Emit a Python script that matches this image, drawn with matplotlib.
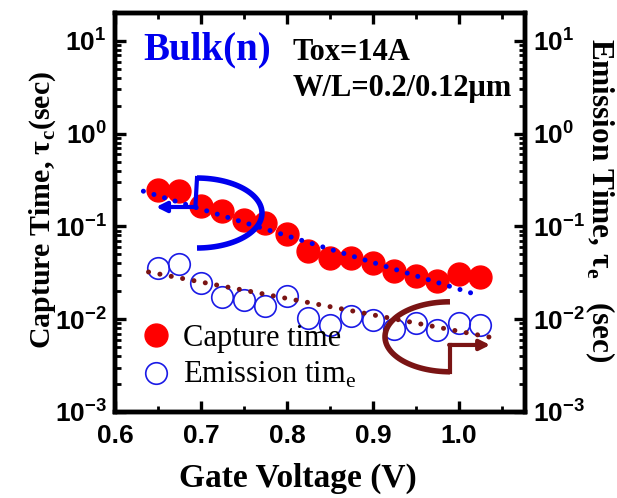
import matplotlib
matplotlib.use('Agg')
import matplotlib.pyplot as plt
import numpy as np
from matplotlib.ticker import LogLocator, MultipleLocator, NullFormatter

plt.rcParams['font.family'] = 'Liberation Sans'
plt.rcParams['font.weight'] = 'bold'

gate_voltage = [0.650, 0.675, 0.700, 0.725, 0.750, 0.775, 0.800, 0.825,
                0.850, 0.875, 0.900, 0.925, 0.950, 0.975, 1.000, 1.025]
capture_time = [0.248, 0.240, 0.168, 0.145, 0.116, 0.108, 0.082, 0.055,
                0.046, 0.0456, 0.0407, 0.033, 0.029, 0.0258, 0.031, 0.0285]
emission_time = [0.036, 0.0397, 0.0245, 0.0174, 0.016, 0.0139, 0.0178, 0.0103,
                 0.0086, 0.0108, 0.0098, 0.0078, 0.009, 0.0076, 0.009, 0.0086]

# fitted trend lines (end points)
capture_fit_v = [0.633, 1.024]
capture_fit_t = [0.24, 0.018]
emission_fit_v = [0.639, 1.044]
emission_fit_t = [0.0323, 0.0062]

serif = 'Liberation Serif'
blue = '#0000ee'
brown = '#7a1414'

fig = plt.figure(figsize=(6.17, 4.98), dpi=100)
ax = fig.add_axes([0.1864, 0.1727, 0.6645, 0.8012])

ax.plot(capture_fit_v, capture_fit_t, color=blue, lw=3.6,
        linestyle=(0, (0.01, 2.2)), dash_capstyle='round', zorder=3)
ax.plot(emission_fit_v, emission_fit_t, color=brown, lw=3.6,
        linestyle=(0, (0.01, 2.3)), dash_capstyle='round', zorder=3)

cap, = ax.plot(gate_voltage, capture_time, 'o', color='#ff0000', ms=16.5,
               mec='#ff0000', zorder=2, label='Capture time')
emi, = ax.plot(gate_voltage, emission_time, 'o', mfc='none', mec='#1a1ae6',
               ms=15.5, mew=1.2, zorder=2, label='Emission tim$_\\mathdefault{e}$')

ax.set_yscale('log')
ax.set_xlim(0.6, 1.077)
ax.set_ylim(1e-3, 20)
ax.xaxis.set_minor_locator(MultipleLocator(0.05))
ax.set_xticks([0.6, 0.7, 0.8, 0.9, 1.0])
ax.set_xticklabels(['0.6', '0.7', '0.8', '0.9', '1.0'])
ax.yaxis.set_minor_locator(LogLocator(base=10, subs=np.arange(2, 10)))
ax.yaxis.set_minor_formatter(NullFormatter())

# twin axis for emission time scale
ax2 = ax.twinx()
ax2.set_yscale('log')
ax2.set_ylim(1e-3, 20)
ax2.yaxis.set_minor_locator(LogLocator(base=10, subs=np.arange(2, 10)))
ax2.yaxis.set_minor_formatter(NullFormatter())

for a in (ax, ax2):
    for s in a.spines.values():
        s.set_linewidth(3.2)
    a.tick_params(which='major', direction='in', length=8, width=2.4,
                  labelsize=19, pad=6)
    a.tick_params(which='minor', direction='in', length=4.5, width=2.0)
ax.tick_params(which='both', top=True, right=False)
ax.tick_params(axis='x', which='major', pad=9)
ax2.tick_params(which='both', left=False, right=True)

ax.set_xlabel('Gate Voltage (V)', fontfamily=serif, fontsize=24,
              fontweight='bold', va='baseline')
ax.xaxis.set_label_coords(0.446, -0.188)
ax.set_ylabel('Capture Time, \u03c4$_\\mathdefault{c}$(sec)', fontfamily=serif,
              fontsize=21.5, fontweight='bold', va='center')
ax.yaxis.set_label_coords(-0.1756, 0.505)
ax2.set_ylabel('Emission Time, \u03c4$_\\mathdefault{e}$   (sec)', fontfamily=serif,
               fontsize=22.5, fontweight='bold', rotation=270, va='center')
ax2.yaxis.set_label_coords(1.183, 0.531)

ax.text(0.068, 0.907, 'Bulk(n)', transform=ax.transAxes, color=blue,
        fontfamily=serif, fontsize=28, fontweight='bold', va='center')
ax.text(0.434, 0.902, 'Tox=14A', transform=ax.transAxes,
        fontfamily=serif, fontsize=22, fontweight='bold', va='center')
ax.text(0.434, 0.812, 'W/L=0.2/0.12\u03bcm', transform=ax.transAxes,
        fontfamily=serif, fontsize=22, fontweight='bold', va='center')

# curved arrows (axes fraction)
theta = np.linspace(-np.pi / 2, np.pi / 2, 60)
ax.plot(0.2 + 0.1585 * np.cos(theta), 0.4987 + 0.0877 * np.sin(theta),
        color=blue, lw=4, transform=ax.transAxes, solid_capstyle='butt')
ax.plot([0.2, 0.196], [0.5864, 0.5138], color=blue, lw=3,
        transform=ax.transAxes)
ax.annotate('', xy=(0.1, 0.5138), xytext=(0.197, 0.5138),
            xycoords='axes fraction', textcoords='axes fraction',
            arrowprops=dict(arrowstyle='-|>,head_length=0.6,head_width=0.3',
                            color=blue, lw=3, shrinkA=0, shrinkB=0))

theta2 = np.linspace(np.pi / 2, 3 * np.pi / 2, 60)
ax.plot(0.817 + 0.1585 * np.cos(theta2), 0.1885 + 0.0877 * np.sin(theta2),
        color=brown, lw=4, transform=ax.transAxes, solid_capstyle='butt')
ax.plot([0.817, 0.817], [0.1008, 0.168], color=brown, lw=3,
        transform=ax.transAxes)
ax.annotate('', xy=(0.915, 0.168), xytext=(0.815, 0.168),
            xycoords='axes fraction', textcoords='axes fraction',
            arrowprops=dict(arrowstyle='-|>,head_length=0.6,head_width=0.3',
                            color=brown, lw=3, shrinkA=0, shrinkB=0))

leg = ax.legend(handles=[cap, emi], loc='lower left', bbox_to_anchor=(-0.012, -0.015),
                frameon=False, prop={'family': serif, 'size': 22, 'weight': 'normal'},
                handletextpad=0.3, labelspacing=0.25, handlelength=1.2)
ax.set_zorder(ax2.get_zorder() + 1)
ax.patch.set_visible(False)

fig.savefig('out.png', dpi=100)
